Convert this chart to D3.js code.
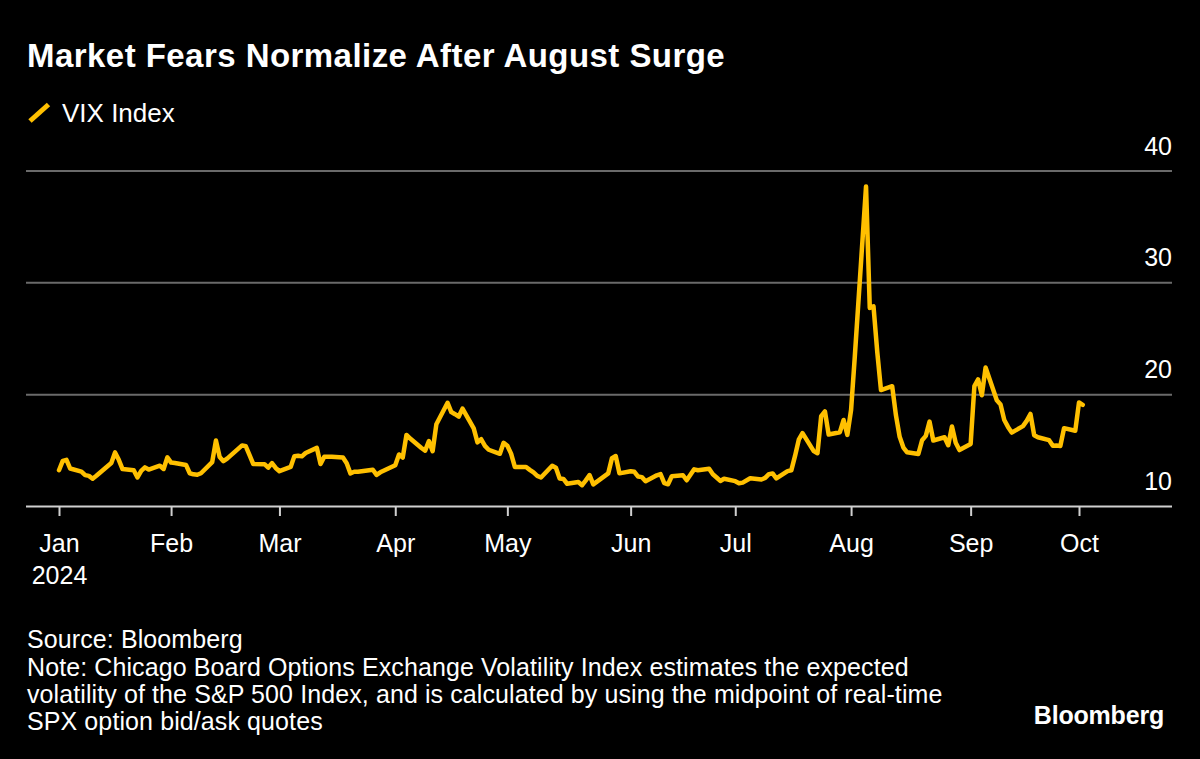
<!DOCTYPE html>
<html><head><meta charset="utf-8">
<script src="https://cdn.jsdelivr.net/npm/d3@7"></script>
<style>
html,body{margin:0;padding:0;background:#000;}
svg{display:block;font-family:"Liberation Sans",Arial,Helvetica,sans-serif;}
</style></head><body>
<svg id="chart" width="1200" height="759"></svg>
<script>
// ---- data ----
const dates = [
"2024-01-02","2024-01-03","2024-01-04","2024-01-05","2024-01-08","2024-01-09","2024-01-10","2024-01-11","2024-01-12","2024-01-16","2024-01-17","2024-01-18","2024-01-19","2024-01-22","2024-01-23","2024-01-24","2024-01-25","2024-01-26","2024-01-29","2024-01-30","2024-01-31",
"2024-02-01","2024-02-02","2024-02-05","2024-02-06","2024-02-07","2024-02-08","2024-02-09","2024-02-12","2024-02-13","2024-02-14","2024-02-15","2024-02-16","2024-02-20","2024-02-21","2024-02-22","2024-02-23","2024-02-26","2024-02-27","2024-02-28","2024-02-29",
"2024-03-01","2024-03-04","2024-03-05","2024-03-06","2024-03-07","2024-03-08","2024-03-11","2024-03-12","2024-03-13","2024-03-14","2024-03-15","2024-03-18","2024-03-19","2024-03-20","2024-03-21","2024-03-22","2024-03-25","2024-03-26","2024-03-27","2024-03-28",
"2024-04-01","2024-04-02","2024-04-03","2024-04-04","2024-04-05","2024-04-08","2024-04-09","2024-04-10","2024-04-11","2024-04-12","2024-04-15","2024-04-16","2024-04-17","2024-04-18","2024-04-19","2024-04-22","2024-04-23","2024-04-24","2024-04-25","2024-04-26","2024-04-29","2024-04-30",
"2024-05-01","2024-05-02","2024-05-03","2024-05-06","2024-05-07","2024-05-08","2024-05-09","2024-05-10","2024-05-13","2024-05-14","2024-05-15","2024-05-16","2024-05-17","2024-05-20","2024-05-21","2024-05-22","2024-05-23","2024-05-24","2024-05-28","2024-05-29","2024-05-30","2024-05-31",
"2024-06-03","2024-06-04","2024-06-05","2024-06-06","2024-06-07","2024-06-10","2024-06-11","2024-06-12","2024-06-13","2024-06-14","2024-06-17","2024-06-18","2024-06-20","2024-06-21","2024-06-24","2024-06-25","2024-06-26","2024-06-27","2024-06-28",
"2024-07-01","2024-07-02","2024-07-03","2024-07-05","2024-07-08","2024-07-09","2024-07-10","2024-07-11","2024-07-12","2024-07-15","2024-07-16","2024-07-17","2024-07-18","2024-07-19","2024-07-22","2024-07-23","2024-07-24","2024-07-25","2024-07-26","2024-07-29","2024-07-30","2024-07-31",
"2024-08-01","2024-08-02","2024-08-05","2024-08-06","2024-08-07","2024-08-08","2024-08-09","2024-08-12","2024-08-13","2024-08-14","2024-08-15","2024-08-16","2024-08-19","2024-08-20","2024-08-21","2024-08-22","2024-08-23","2024-08-26","2024-08-27","2024-08-28","2024-08-29","2024-08-30",
"2024-09-02","2024-09-03","2024-09-04","2024-09-05","2024-09-06","2024-09-09","2024-09-10","2024-09-11","2024-09-12","2024-09-13","2024-09-16","2024-09-17","2024-09-18","2024-09-19","2024-09-20","2024-09-23","2024-09-24","2024-09-25","2024-09-26","2024-09-27","2024-09-30",
"2024-10-01","2024-10-02"
];
const vix = [
13.20,14.04,14.13,13.35,13.08,12.76,12.69,12.44,12.70,13.84,14.79,14.13,13.30,13.19,12.55,13.14,13.45,13.26,13.60,13.31,14.35,
13.88,13.85,13.67,12.93,12.83,12.79,12.93,13.93,15.85,14.38,14.01,14.24,15.42,15.34,14.54,13.75,13.74,13.43,13.84,13.40,
13.11,13.49,14.46,14.50,14.44,14.74,15.20,13.75,14.40,14.41,14.41,14.33,13.82,12.92,13.06,13.06,13.19,13.24,12.78,13.01,
13.65,14.61,14.33,16.35,16.03,15.19,14.95,15.80,14.91,17.31,19.23,18.40,18.21,18.00,18.71,16.94,15.69,15.97,15.37,15.03,14.67,15.65,
15.39,14.68,13.49,13.49,13.23,13.00,12.69,12.55,13.60,13.42,12.45,12.42,11.99,12.15,11.86,12.29,12.77,11.93,12.92,14.28,14.47,12.92,
13.11,13.06,12.63,12.58,12.22,12.74,12.85,12.04,11.94,12.66,12.75,12.30,13.28,13.20,13.33,12.84,12.55,12.24,12.44,
12.22,12.03,12.09,12.48,12.37,12.51,12.85,12.91,12.46,13.12,13.19,14.48,15.93,16.52,14.91,14.72,18.04,18.46,16.39,16.60,17.69,16.36,
18.59,23.39,38.57,27.71,27.85,23.79,20.37,20.71,18.12,16.19,15.23,14.80,14.65,15.88,16.27,17.55,15.86,16.15,15.43,17.11,15.65,15.00,
15.55,20.72,21.32,19.90,22.38,19.45,19.08,17.69,17.07,16.56,17.14,17.61,18.23,16.33,16.15,15.89,15.39,15.41,15.37,16.96,16.73,
19.26,19.05
];
const yTicks = [10, 20, 30, 40];
const monthTickDates = ["2024-01-02","2024-02-01","2024-03-01","2024-04-01","2024-05-01","2024-06-03","2024-07-01","2024-08-01","2024-09-02","2024-10-01"];
const monthLabels = ["Jan","Feb","Mar","Apr","May","Jun","Jul","Aug","Sep","Oct"];
const yearLabel = "2024";
const seriesName = "VIX Index";
const title = "Market Fears Normalize After August Surge";
const footerLines = [
  "Source: Bloomberg",
  "Note: Chicago Board Options Exchange Volatility Index estimates the expected",
  "volatility of the S&P 500 Index, and is calculated by using the midpoint of real-time",
  "SPX option bid/ask quotes"
];

// ---- layout ----
const W = 1200, H = 759;
const plotLeft = 26, plotRight = 1172;
const lineColor = "#ffc000";
const parse = d3.utcParse("%Y-%m-%d");
const data = dates.map((d, i) => ({date: parse(d), value: vix[i]}));
const tickDates = monthTickDates.map(parse);

const x = d3.scaleUtc()
  .domain([tickDates[0], tickDates[tickDates.length - 1]])
  .range([59, 1079]);
const y = d3.scaleLinear().domain([10, 40]).range([506, 170.5]);

const svg = d3.select("#chart");
svg.append("rect").attr("width", W).attr("height", H).attr("fill", "#000");

// title
svg.append("text").attr("x", 27).attr("y", 67)
  .attr("fill", "#fff").attr("font-size", 33).attr("font-weight", "bold")
  .attr("letter-spacing", 0.45).text(title);

// legend
svg.append("line").attr("x1", 30).attr("y1", 121).attr("x2", 48.5).attr("y2", 104.5)
  .attr("stroke", lineColor).attr("stroke-width", 5);
svg.append("text").attr("x", 62).attr("y", 121.7)
  .attr("fill", "#fff").attr("font-size", 26).text(seriesName);

// y axis / gridlines
const yAxis = d3.axisLeft(y).tickValues(yTicks).tickSize(plotRight - plotLeft).tickFormat(d3.format("d"));
const gy = svg.append("g").attr("transform", `translate(${plotRight},0)`).call(yAxis);
gy.select(".domain").remove();
gy.selectAll(".tick line")
  .attr("stroke", d => d === 10 ? "#d0d0d0" : "#6a6a6a")
  .attr("stroke-width", 2);
gy.selectAll(".tick text")
  .attr("x", 0).attr("dy", null).attr("y", -16.5)
  .attr("text-anchor", "end")
  .attr("fill", "#fff").attr("font-size", 25).attr("font-family", null);

// x axis
const xAxis = d3.axisBottom(x).tickValues(tickDates).tickSize(10)
  .tickFormat((d, i) => monthLabels[i]);
const gx = svg.append("g").attr("transform", `translate(0,${y(10)})`).call(xAxis);
gx.select(".domain").remove();
gx.selectAll(".tick line").attr("stroke", "#d0d0d0").attr("stroke-width", 2);
gx.selectAll(".tick text")
  .attr("dy", null).attr("y", 46)
  .attr("fill", "#fff").attr("font-size", 25).attr("font-family", null);
gx.select(".tick text").each(function () {
  d3.select(this.parentNode).append("text")
    .attr("y", 77.5).attr("fill", "#fff").attr("font-size", 25)
    .attr("text-anchor", "middle").text(yearLabel);
});

// line
const line = d3.line().x(d => x(d.date)).y(d => y(d.value));
svg.append("path").datum(data).attr("d", line)
  .attr("fill", "none").attr("stroke", lineColor).attr("stroke-width", 4.5)
  .attr("stroke-linejoin", "round").attr("stroke-linecap", "round");

// footer
const ft = svg.append("text").attr("x", 27).attr("y", 648.3)
  .attr("fill", "#fff").attr("font-size", 25).attr("letter-spacing", 0.1);
footerLines.forEach((t, i) => {
  ft.append("tspan").attr("x", 27).attr("y", 648.3 + i * 27.2).text(t);
});

// brand
svg.append("text").attr("x", 1164).attr("y", 724).attr("text-anchor", "end")
  .attr("fill", "#fff").attr("font-size", 25).attr("font-weight", "bold")
  .attr("letter-spacing", -0.2).text("Bloomberg");
</script>
</body></html>
